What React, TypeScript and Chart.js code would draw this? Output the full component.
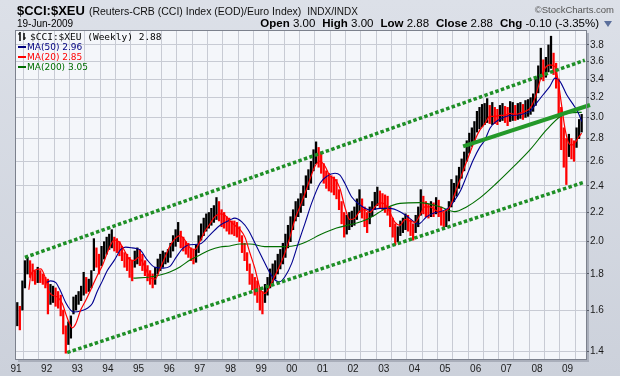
import React, { useEffect, useRef } from 'react';
import { Chart, registerables } from 'chart.js';

Chart.register(...registerables);

// ---------- data ----------
const FIRST_YEAR = 1991;
const yearLabels = ['91', '92', '93', '94', '95', '96', '97', '98', '99', '00', '01', '02', '03', '04', '05', '06', '07', '08', '09'];
const priceTicks = [1.4, 1.6, 1.8, 2.0, 2.2, 2.4, 2.6, 2.8, 3.0, 3.2, 3.4, 3.6, 3.8];

// monthly high / low of the weekly bars, Jan 1991 .. Jun 2009
const priceHigh = [
  1.64, 1.62, 1.76, 1.88, 1.90, 1.88, 1.86, 1.82, 1.84, 1.82, 1.80, 1.78,
  1.77, 1.74, 1.73, 1.72, 1.70, 1.68, 1.60, 1.52, 1.54, 1.57, 1.67, 1.68,
  1.70, 1.73, 1.81, 1.78, 1.77, 1.82, 2.02, 1.96, 1.92, 1.97, 2.00, 2.03,
  2.05, 2.08, 2.03, 2.02, 2.00, 1.97, 1.93, 1.92, 1.90, 1.88, 1.94, 1.96,
  1.95, 1.92, 1.88, 1.85, 1.82, 1.80, 1.84, 1.89, 1.92, 1.94, 1.93, 1.95,
  1.99, 2.04, 2.08, 2.13, 2.07, 2.03, 2.00, 1.99, 1.96, 1.95, 1.98, 2.04,
  2.12, 2.16, 2.19, 2.20, 2.23, 2.25, 2.31, 2.28, 2.22, 2.20, 2.17, 2.16,
  2.14, 2.14, 2.13, 2.10, 2.04, 1.99, 1.93, 1.86, 1.80, 1.78, 1.76, 1.72,
  1.70, 1.74, 1.78, 1.83, 1.86, 1.88, 1.92, 1.95, 1.99, 2.05, 2.11, 2.17,
  2.22, 2.28, 2.30, 2.34, 2.40, 2.48, 2.53, 2.60, 2.70, 2.77, 2.72, 2.68,
  2.58, 2.52, 2.50, 2.48, 2.47, 2.45, 2.37, 2.28, 2.20, 2.18, 2.20, 2.21,
  2.24, 2.30, 2.37, 2.30, 2.24, 2.20, 2.24, 2.28, 2.35, 2.39, 2.36, 2.34,
  2.33, 2.32, 2.24, 2.16, 2.12, 2.10, 2.14, 2.16, 2.19, 2.18, 2.15, 2.12,
  2.18, 2.24, 2.37, 2.32, 2.28, 2.26, 2.28, 2.27, 2.31, 2.29, 2.24, 2.20,
  2.22, 2.28, 2.45, 2.42, 2.48, 2.55, 2.62, 2.68, 2.78, 2.85, 2.90, 2.96,
  3.06, 3.10, 3.13, 3.14, 3.19, 3.12, 3.15, 3.10, 3.08, 3.12, 3.14, 3.11,
  3.10, 3.16, 3.15, 3.12, 3.14, 3.15, 3.13, 3.17, 3.18, 3.20, 3.24, 3.40,
  3.55, 3.76, 3.62, 3.65, 3.80, 3.91, 3.70, 3.58, 3.40, 3.10, 2.90, 2.80,
  2.84, 2.80, 2.78, 2.90, 2.98, 3.03,
];
const priceLow = [
  1.52, 1.50, 1.60, 1.72, 1.80, 1.78, 1.76, 1.74, 1.75, 1.75, 1.74, 1.72,
  1.58, 1.63, 1.64, 1.62, 1.61, 1.57, 1.48, 1.39, 1.43, 1.46, 1.58, 1.60,
  1.63, 1.65, 1.68, 1.69, 1.70, 1.72, 1.82, 1.84, 1.80, 1.85, 1.89, 1.92,
  1.95, 1.96, 1.94, 1.93, 1.91, 1.88, 1.84, 1.82, 1.78, 1.76, 1.84, 1.86,
  1.85, 1.82, 1.79, 1.76, 1.74, 1.72, 1.74, 1.80, 1.82, 1.84, 1.86, 1.87,
  1.90, 1.94, 1.97, 2.00, 1.96, 1.94, 1.92, 1.90, 1.88, 1.86, 1.87, 1.93,
  2.01, 2.04, 2.07, 2.09, 2.11, 2.13, 2.15, 2.14, 2.10, 2.09, 2.07, 2.05,
  2.05, 2.04, 2.03, 2.00, 1.93, 1.88, 1.82, 1.74, 1.71, 1.68, 1.64, 1.60,
  1.58, 1.64, 1.68, 1.72, 1.75, 1.77, 1.80, 1.83, 1.86, 1.90, 1.96, 2.00,
  2.08, 2.14, 2.17, 2.20, 2.25, 2.31, 2.37, 2.42, 2.52, 2.58, 2.55, 2.50,
  2.42, 2.38, 2.36, 2.35, 2.33, 2.30, 2.22, 2.12, 2.03, 2.05, 2.08, 2.10,
  2.11, 2.15, 2.20, 2.16, 2.10, 2.06, 2.12, 2.17, 2.22, 2.25, 2.23, 2.22,
  2.20, 2.18, 2.10, 2.03, 1.98, 2.00, 2.04, 2.06, 2.08, 2.07, 2.04, 2.01,
  2.06, 2.10, 2.18, 2.19, 2.17, 2.16, 2.17, 2.17, 2.19, 2.17, 2.11, 2.08,
  2.10, 2.14, 2.24, 2.28, 2.32, 2.38, 2.46, 2.52, 2.60, 2.67, 2.73, 2.78,
  2.86, 2.89, 2.91, 2.93, 2.95, 2.94, 2.93, 2.94, 2.93, 2.96, 2.97, 2.95,
  2.92, 2.96, 2.97, 2.97, 2.98, 2.99, 2.98, 3.00, 3.01, 3.03, 3.06, 3.12,
  3.25, 3.40, 3.38, 3.42, 3.48, 3.52, 3.45, 3.30, 3.00, 2.70, 2.55, 2.41,
  2.64, 2.62, 2.60, 2.72, 2.80, 2.86,
];

const ma20Dates = [
  1991.42, 1991.48, 1991.59, 1991.81, 1991.97, 1992.08, 1992.18, 1992.35, 1992.51, 1992.67, 1992.84, 1992.95,
  1993.11, 1993.27, 1993.44, 1993.65, 1993.82, 1993.98, 1994.09, 1994.20, 1994.36, 1994.52, 1994.69, 1994.85,
  1995.01, 1995.21, 1995.37, 1995.54, 1995.70, 1995.86, 1996.02, 1996.19, 1996.35, 1996.51, 1996.68, 1996.84,
  1997.00, 1997.17, 1997.33, 1997.49, 1997.66, 1997.82, 1997.98, 1998.14, 1998.31, 1998.47, 1998.63, 1998.80,
  1998.96, 1999.12, 1999.29, 1999.45, 1999.61, 1999.78, 1999.94, 2000.10, 2000.26, 2000.43, 2000.59, 2000.76,
  2000.92, 2001.08, 2001.24, 2001.41, 2001.57, 2001.73, 2001.89, 2002.06, 2002.22, 2002.39, 2002.55, 2002.71,
  2002.87, 2003.04, 2003.20, 2003.37, 2003.53, 2003.69, 2003.85, 2004.02, 2004.18, 2004.34, 2004.51, 2004.67,
  2004.83, 2005.00, 2005.16, 2005.32, 2005.49, 2005.65, 2005.81, 2005.98, 2006.14, 2006.30, 2006.46, 2006.63,
  2006.79, 2006.95, 2007.12, 2007.28, 2007.44, 2007.61, 2007.77, 2007.93, 2008.10, 2008.26, 2008.42, 2008.59,
  2008.69, 2008.80, 2008.91, 2009.02, 2009.13, 2009.24, 2009.35, 2009.46,
];
const ma20Values = [
  1.71, 1.79, 1.82, 1.83, 1.77, 1.70, 1.68, 1.67, 1.635, 1.56, 1.51, 1.53,
  1.60, 1.65, 1.71, 1.79, 1.85, 1.93, 1.98, 2.01, 2.00, 1.95, 1.89, 1.88,
  1.90, 1.84, 1.78, 1.77, 1.83, 1.90, 1.97, 2.02, 2.04, 2.01, 1.96, 1.95,
  2.00, 2.07, 2.12, 2.17, 2.19, 2.18, 2.14, 2.11, 2.08, 2.03, 1.93, 1.83,
  1.72, 1.69, 1.73, 1.79, 1.85, 1.93, 2.03, 2.15, 2.24, 2.34, 2.45, 2.56,
  2.60, 2.56, 2.48, 2.45, 2.38, 2.24, 2.15, 2.16, 2.21, 2.22, 2.20, 2.24,
  2.27, 2.26, 2.20, 2.13, 2.11, 2.15, 2.14, 2.13, 2.18, 2.24, 2.24, 2.22,
  2.20, 2.21, 2.24, 2.34, 2.45, 2.56, 2.67, 2.79, 2.88, 2.94, 3.01, 3.01,
  3.02, 3.02, 3.04, 3.03, 3.04, 3.06, 3.09, 3.19, 3.38, 3.52, 3.56, 3.54,
  3.38, 3.13, 2.90, 2.77, 2.74, 2.76, 2.81, 2.85,
];

const ma50Dates = [
  1991.99, 1992.13, 1992.30, 1992.46, 1992.62, 1992.78, 1992.89, 1993.11, 1993.33, 1993.49, 1993.65, 1993.82,
  1993.98, 1994.20, 1994.42, 1994.58, 1994.79, 1995.05, 1995.26, 1995.53, 1995.81, 1996.02, 1996.24, 1996.46,
  1996.68, 1997.00, 1997.33, 1997.66, 1997.98, 1998.14, 1998.36, 1998.58, 1998.80, 1999.07, 1999.29, 1999.45,
  1999.61, 1999.78, 2000.00, 2000.21, 2000.43, 2000.65, 2000.92, 2001.14, 2001.41, 2001.57, 2001.73, 2001.95,
  2002.22, 2002.55, 2002.88, 2003.20, 2003.53, 2003.85, 2004.13, 2004.40, 2004.62, 2004.94, 2005.16, 2005.32,
  2005.49, 2005.70, 2005.92, 2006.14, 2006.30, 2006.47, 2006.68, 2007.01, 2007.44, 2007.77, 2007.99, 2008.20,
  2008.42, 2008.59, 2008.75, 2008.97, 2009.18, 2009.35, 2009.46,
];
const ma50Values = [
  1.75, 1.76, 1.75, 1.70, 1.64, 1.60, 1.59, 1.595, 1.61, 1.635, 1.70, 1.76,
  1.82, 1.88, 1.95, 1.965, 1.96, 1.947, 1.89, 1.84, 1.835, 1.845, 1.905, 1.96,
  1.98, 1.985, 2.045, 2.11, 2.147, 2.16, 2.135, 2.078, 1.99, 1.884, 1.805, 1.765,
  1.755, 1.785, 1.865, 1.99, 2.123, 2.27, 2.42, 2.475, 2.50, 2.486, 2.42, 2.316,
  2.255, 2.218, 2.23, 2.23, 2.206, 2.158, 2.119, 2.17, 2.195, 2.213, 2.242, 2.292,
  2.355, 2.475, 2.611, 2.725, 2.787, 2.899, 2.963, 3.012, 3.027, 3.06, 3.145, 3.23,
  3.32, 3.41, 3.375, 3.23, 3.13, 3.044, 2.96,
];

const ma200Dates = [
  1994.83, 1995.37, 1995.70, 1996.02, 1996.35, 1996.68, 1997.00, 1997.33, 1997.66, 1997.98, 1998.31, 1998.63,
  1999.12, 1999.78, 2000.20, 2000.48, 2000.92, 2001.46, 2002.12, 2002.55, 2003.09, 2003.53, 2004.18, 2004.83,
  2005.32, 2005.70, 2006.14, 2006.68, 2007.22, 2007.77, 2008.31, 2008.75, 2009.07, 2009.46,
];
const ma200Values = [
  1.776, 1.782, 1.794, 1.812, 1.842, 1.884, 1.915, 1.947, 1.966, 1.972, 1.985, 1.985,
  1.968, 1.968, 1.979, 2.0, 2.045, 2.091, 2.126, 2.161, 2.233, 2.266, 2.272, 2.242,
  2.206, 2.24, 2.307, 2.42, 2.55, 2.698, 2.88, 3.007, 3.044, 3.05,
];

const upperChannelDates = [1991.29, 2009.56];
const upperChannelValues = [1.90, 3.615];
const lowerChannelDates = [1992.67, 2009.56];
const lowerChannelValues = [1.393, 2.43];
const trendDates = [2005.59, 2009.73];
const trendValues = [2.73, 3.124];

const X_MIN = 1991;
const X_MAX = 2009.6;
const Y_MIN = 1.364;
const Y_MAX = 3.977;

// ---------- helpers ----------
const pts = (xs: number[], ys: number[]) => xs.map((x, i) => ({ x, y: ys[i] }));

const xTickValues: number[] = [];
for (let i = 0; i <= (yearLabels.length - 1) * 2 + 1; i++) xTickValues.push(FIRST_YEAR + i * 0.5);

const SANS = '"Liberation Sans", Arial, sans-serif';

const framePlugin = {
  id: 'frame',
  beforeDraw(chart: any) {
    const { ctx, chartArea: a, width, height } = chart;
    ctx.save();
    const g = ctx.createLinearGradient(0, 0, 0, height);
    g.addColorStop(0, '#DCE0E8');
    g.addColorStop(1, '#CCD1DB');
    ctx.fillStyle = g;
    ctx.fillRect(0, 0, width, height);
    ctx.fillStyle = '#A9AEBA';
    ctx.fillRect(a.left + 2, a.top + 2, a.right - a.left + 1, a.bottom - a.top + 1);
    ctx.fillStyle = '#F4F6FA';
    ctx.fillRect(a.left, a.top, a.right - a.left, a.bottom - a.top);
    ctx.restore();
  },
  afterDraw(chart: any) {
    const { ctx, chartArea: a } = chart;
    ctx.save();
    ctx.strokeStyle = '#7C818D';
    ctx.lineWidth = 1;
    ctx.strokeRect(Math.round(a.left) - 0.5, Math.round(a.top) - 0.5, Math.round(a.right - a.left) + 1, Math.round(a.bottom - a.top) + 1);
    ctx.restore();
  },
};

function PriceChart() {
  const ref = useRef<HTMLCanvasElement | null>(null);
  useEffect(() => {
    if (!ref.current) return;
    const bars = priceHigh.map((h, i) => ({ x: FIRST_YEAR + (i + 0.5) / 12, y: [priceLow[i], h] }));
    const barColors = priceHigh.map((h, i) =>
      i > 0 && h + priceLow[i] < priceHigh[i - 1] + priceLow[i - 1] ? '#ff0000' : '#000000'
    );
    const chart = new Chart(ref.current, {
      type: 'bar',
      data: {
        datasets: [
          { type: 'line', label: 'trend', data: pts(trendDates, trendValues), borderColor: '#24992A', borderWidth: 4, pointRadius: 0, order: 0, clip: false } as any,
          { type: 'line', label: 'upper', data: pts(upperChannelDates, upperChannelValues), borderColor: '#1E8F26', borderWidth: 3.5, borderDash: [3.5, 2.3], pointRadius: 0, order: 1 } as any,
          { type: 'line', label: 'lower', data: pts(lowerChannelDates, lowerChannelValues), borderColor: '#1E8F26', borderWidth: 3.5, borderDash: [3.5, 2.3], pointRadius: 0, order: 1 } as any,
          { type: 'line', label: 'MA(20)', data: pts(ma20Dates, ma20Values), borderColor: '#FF0000', borderWidth: 1.2, pointRadius: 0, cubicInterpolationMode: 'monotone', order: 2 } as any,
          { type: 'line', label: 'MA(50)', data: pts(ma50Dates, ma50Values), borderColor: '#000090', borderWidth: 1.1, pointRadius: 0, cubicInterpolationMode: 'monotone', order: 3 } as any,
          { type: 'line', label: 'MA(200)', data: pts(ma200Dates, ma200Values), borderColor: '#006E00', borderWidth: 1.1, pointRadius: 0, cubicInterpolationMode: 'monotone', order: 4 } as any,
          { type: 'bar', label: '$CCI:$XEU', data: bars, backgroundColor: barColors, barThickness: 1.6, order: 5 } as any,
        ],
      },
      options: {
        responsive: false,
        animation: false,
        events: [],
        layout: { padding: { left: 16, top: 31, right: 0, bottom: 0 } },
        plugins: { legend: { display: false }, tooltip: { enabled: false }, title: { display: false } },
        scales: {
          x: {
            type: 'linear',
            min: X_MIN,
            max: X_MAX,
            offset: false,
            afterFit: (s: any) => { s.height = 17; },
            afterBuildTicks: (s: any) => { s.ticks = xTickValues.map((v) => ({ value: v })); },
            grid: { color: '#C8CBD4', drawTicks: false, lineWidth: 1 },
            border: { display: false },
            ticks: {
              autoSkip: false,
              maxRotation: 0,
              minRotation: 0,
              padding: 4,
              color: '#1a1a1a',
              font: { family: SANS, size: 10 },
              callback: (v: any) => {
                const n = Number(v);
                if (Math.abs(n - Math.round(n)) > 1e-6) return '';
                const idx = Math.round(n) - FIRST_YEAR;
                return yearLabels[idx] ?? '';
              },
            },
          },
          y: {
            type: 'logarithmic',
            position: 'right',
            min: Y_MIN,
            max: Y_MAX,
            bounds: 'data',
            afterFit: (s: any) => { s.width = 34; },
            afterBuildTicks: (s: any) => { s.ticks = priceTicks.map((v) => ({ value: v })); },
            grid: { color: '#C8CBD4', tickColor: '#555A66', tickLength: 3, drawTicks: true, lineWidth: 1 },
            border: { display: false },
            ticks: {
              padding: 1,
              color: '#1a1a1a',
              font: { family: SANS, size: 10 },
              callback: (v: any) => Number(v).toFixed(1),
            },
          },
        },
      } as any,
      plugins: [framePlugin],
    });
    return () => chart.destroy();
  }, []);
  return <canvas ref={ref} width={620} height={376} style={{ position: 'absolute', left: 0, top: 0, width: 620, height: 376 }} />;
}

const dash = (color: string) => (
  <span style={{ display: 'inline-block', width: 8, height: 2, background: color, verticalAlign: 'middle', marginRight: 1, marginTop: -2 }} />
);

export default function App() {
  return (
    <div style={{ position: 'absolute', left: 0, top: 0, width: 620, height: 376, overflow: 'hidden' }}>
      <PriceChart />
      {/* header */}
      <div style={{ position: 'absolute', left: 17, top: 2, whiteSpace: 'nowrap', lineHeight: '16px', color: '#000' }}>
        <span style={{ font: `bold 13px ${SANS}` }}>$CCI:$XEU</span>
        <span style={{ font: `10.5px ${SANS}`, marginLeft: 4, color: '#111' }}>(Reuters-CRB (CCI) Index (EOD)/Euro Index)</span>
        <span style={{ font: `10px ${SANS}`, marginLeft: 6, color: '#111' }}>INDX/INDX</span>
      </div>
      <div style={{ position: 'absolute', right: 6, top: 3, whiteSpace: 'nowrap', font: `9.5px ${SANS}`, lineHeight: '13px', color: '#555' }}>
        ©StockCharts.com
      </div>
      <div style={{ position: 'absolute', left: 17, top: 18, whiteSpace: 'nowrap', font: `10px ${SANS}`, lineHeight: '12px', color: '#000' }}>
        19-Jun-2009
      </div>
      <div style={{ position: 'absolute', right: 8, top: 17, whiteSpace: 'nowrap', font: `11.5px ${SANS}`, lineHeight: '13px', color: '#000', display: 'flex', alignItems: 'center', gap: 7 }}>
        <span><b>Open</b> 3.00</span>
        <span><b>High</b> 3.00</span>
        <span><b>Low</b> 2.88</span>
        <span><b>Close</b> 2.88</span>
        <span><b>Chg</b> -0.10 (-3.35%)</span>
        <svg width="8" height="6" style={{ marginLeft: -2 }}><polygon points="0,0 8,0 4,6" fill="#5B6F9C" /></svg>
      </div>
      {/* legend */}
      <div style={{ position: 'absolute', left: 18, top: 31, whiteSpace: 'nowrap', lineHeight: '11px' }}>
        <div style={{ font: `9.5px "DejaVu Sans Mono", monospace`, color: '#000' }}>
          <svg width="9" height="9" style={{ verticalAlign: 'middle', marginRight: 3, marginTop: -2 }}>
            <line x1="2" y1="0" x2="2" y2="9" stroke="#000" strokeWidth="1.5" />
            <line x1="0" y1="2" x2="2" y2="2" stroke="#000" strokeWidth="1" />
            <line x1="6" y1="1" x2="6" y2="8" stroke="#000" strokeWidth="1.5" />
            <line x1="6" y1="6" x2="8" y2="6" stroke="#000" strokeWidth="1" />
          </svg>
          $CCI:$XEU (Weekly) 2.88
        </div>
        <div style={{ font: `9px "DejaVu Sans", sans-serif`, color: '#000080' }}>{dash('#000080')}MA(50) 2.96</div>
        <div style={{ font: `9px "DejaVu Sans", sans-serif`, color: '#FF0000' }}>{dash('#FF0000')}MA(20) 2.85</div>
        <div style={{ font: `9px "DejaVu Sans", sans-serif`, color: '#006E00' }}>{dash('#006E00')}MA(200) 3.05</div>
      </div>
    </div>
  );
}
